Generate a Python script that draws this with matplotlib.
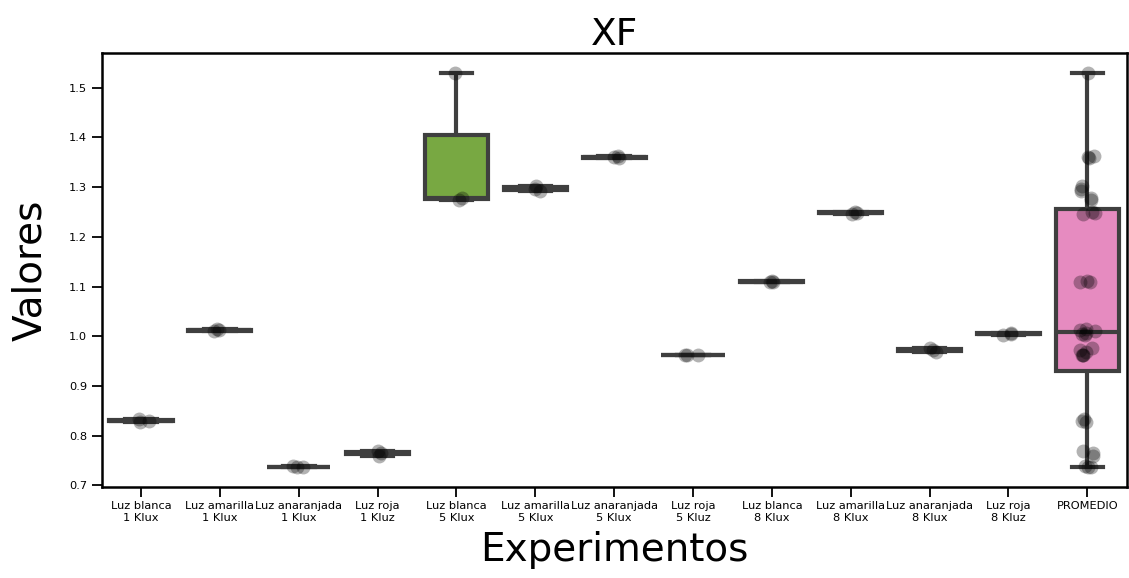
import numpy as np
import pandas as pd
import matplotlib
matplotlib.use("Agg")
import matplotlib.pyplot as plt
import seaborn as sns

# Etiquetas de los experimentos
experimentos = [
    "Luz blanca\n1 Klux", "Luz amarilla\n1 Klux", "Luz anaranjada\n1 Klux", "Luz roja\n1 Kluz",
    "Luz blanca\n5 Klux", "Luz amarilla\n5 Klux", "Luz anaranjada\n5 Klux", "Luz roja\n5 Kluz",
    "Luz blanca\n8 Klux", "Luz amarilla\n8 Klux", "Luz anaranjada\n8 Klux", "Luz roja\n8 Kluz",
]

# Valores XF de cada repeticion
blanca_1 = [0.830, 0.833, 0.827]
amarilla_1 = [1.012, 1.014, 1.011]
anaranjada_1 = [0.737, 0.738, 0.737]
roja_1 = [0.765, 0.770, 0.760]
blanca_5 = [1.279, 1.274, 1.530]
amarilla_5 = [1.297, 1.302, 1.292]
anaranjada_5 = [1.361, 1.362, 1.358]
roja_5 = [0.962, 0.963, 0.962]
blanca_8 = [1.110, 1.112, 1.109]
amarilla_8 = [1.249, 1.250, 1.246]
anaranjada_8 = [0.973, 0.977, 0.968]
roja_8 = [1.005, 1.007, 1.003]

valores = [blanca_1, amarilla_1, anaranjada_1, roja_1,
           blanca_5, amarilla_5, anaranjada_5, roja_5,
           blanca_8, amarilla_8, anaranjada_8, roja_8]

filas = []
for nombre, vals in zip(experimentos, valores):
    for v in vals:
        filas.append((nombre, v))
# PROMEDIO agrupa todas las mediciones
for vals in valores:
    for v in vals:
        filas.append(("PROMEDIO", v))
df = pd.DataFrame(filas, columns=["Experimentos", "Valores"])

colores = ["#66c2a5", "#fc8d62", "#8da0cb", "#e78ac3", "#78a842", "#ffd92f",
           "#e5c494", "#b3b3b3", "#66c2a5", "#fc8d62", "#8da0cb", "#a6d854", "#e68bc0"]

fig, ax = plt.subplots(figsize=(11.29, 5.78), dpi=100)
sns.boxplot(data=df, x="Experimentos", y="Valores", hue="Experimentos",
            palette=colores, saturation=1, showfliers=False, legend=False,
            linewidth=3, linecolor="#3f3f3f", ax=ax)
sns.stripplot(data=df, x="Experimentos", y="Valores", color="black",
              alpha=0.3, size=10, jitter=True, ax=ax)

ax.set_title("XF", fontsize=27, pad=4)
ax.set_xlabel("Experimentos", fontsize=28, labelpad=6)
ax.set_ylabel("Valores", fontsize=28, labelpad=14)
ax.tick_params(axis="both", labelsize=8.2, length=7, width=1.3)
for s in ax.spines.values():
    s.set_linewidth(1.8)

plt.subplots_adjust(left=0.09, right=0.998, top=0.908, bottom=0.158)
fig.savefig("out.png", dpi=100)
